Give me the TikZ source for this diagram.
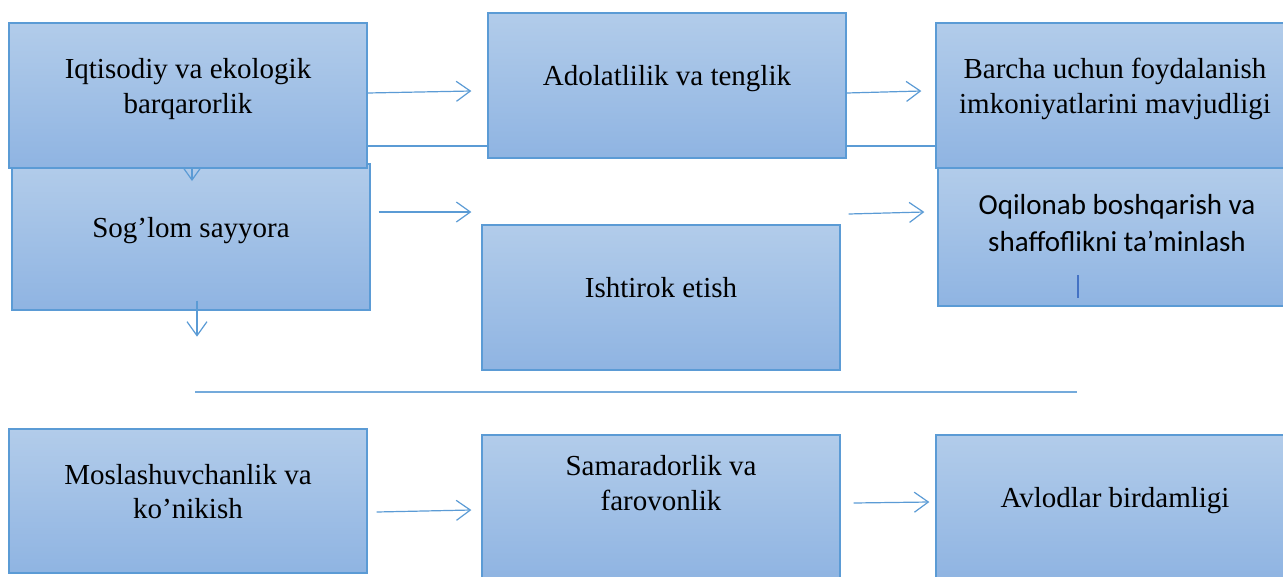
\documentclass[tikz,border=0pt]{standalone}
\usepackage{fontspec}
\setmainfont{Liberation Serif}
\newfontfamily\calibri{Carlito}
\usetikzlibrary{arrows.meta}
\definecolor{edgeblue}{HTML}{5B9BD5}
\definecolor{filltop}{HTML}{B2CCEA}
\definecolor{fillbot}{HTML}{8FB4E2}
\definecolor{darkblue}{HTML}{4472C4}
\begin{document}
\begin{tikzpicture}[x=1pt, y=-1pt,
        box/.style={draw=edgeblue, line width=1.3pt, top color=filltop, bottom color=fillbot,
            minimum width=358pt, minimum height=145pt, align=center, text depth=20pt,
            font=\fontsize{29}{35}\selectfont},
        arr/.style={draw=edgeblue, line width=1.2pt, -{Straight Barb[length=14pt, width=20pt, line width=1.2pt]}},
        link/.style={draw=edgeblue, line width=1.2pt}]
        \useasboundingbox (0,0) rectangle (1283,576);
        \clip (0,0) rectangle (1283,576);
        % Nodes (principles)
        \node[box, minimum height=146pt] (sayyora) at (191,237) {Sog’lom sayyora};
        \coordinate (adown) at (192,160);
        \coordinate (atip) at (192,181);
        \draw[arr] (adown) -- (atip);
        \node[box] (barqaror) at (188,95.5) {Iqtisodiy va ekologik\\barqarorlik};
        \node[box] (adolat) at (667,85.5) {Adolatlilik va tenglik};
        \node[box] (barcha) at (1115,95.5) {Barcha uchun foydalanish\\imkoniyatlarini mavjudligi};
        \node[box] (ishtirok) at (661,297.5) {Ishtirok etish};
        \node[box, minimum height=138pt, text depth=28pt, font=\calibri\fontsize{29}{37}\selectfont] (oqilona) at (1117,237) {Oqilonab boshqarish va\\shaffoflikni ta’minlash};
        \node[box, minimum height=144pt, font=\fontsize{29}{34}\selectfont] (moslash) at (188,501) {Moslashuvchanlik va\\ko’nikish};
        \node[box, text depth=50pt] (samara) at (661,507.5) {Samaradorlik va\\farovonlik};
        \node[box] (avlod) at (1115,507.5) {Avlodlar birdamligi};

        % Edges (arrows between the boxes)
        \draw[arr] ([yshift=2.5]barqaror.east) -- ([xshift=-16,yshift=-5.5]adolat.west);
        \draw[link] ([yshift=-50.5]barqaror.east) -- ([yshift=-60.5]adolat.west);
        \draw[arr] ([yshift=-7.5]adolat.east) -- ([xshift=-14,yshift=4.5]barcha.west);
        \draw[link] ([yshift=-60.5]adolat.east) -- ([yshift=-50.5]barcha.west);
        \draw[arr] ([xshift=8,yshift=25]sayyora.east) -- ([xshift=-10,yshift=85.5]ishtirok.west);
        \draw[arr] ([xshift=8,yshift=83.5]ishtirok.east) -- ([xshift=-13,yshift=25]oqilona.west);
        \draw[arr] ([xshift=6,yshift=10]sayyora.south) -- ([xshift=6,yshift=-26]sayyora.south);
        \draw[darkblue, line width=1.2pt] ([xshift=-39,yshift=-38]oqilona.center) -- ([xshift=-39,yshift=-61]oqilona.center);
        \coordinate (sepleft) at (195,392);
        \coordinate (sepright) at (1077,392);
        \draw[edgeblue!85, line width=2pt] (sepleft) -- (sepright);
        \draw[arr] ([xshift=9,yshift=-11]moslash.east) -- ([xshift=-10,yshift=-2.5]samara.west);
        \draw[arr] ([xshift=13,yshift=4.5]samara.east) -- ([xshift=-6,yshift=5.5]avlod.west);
    \end{tikzpicture}
\end{document}
